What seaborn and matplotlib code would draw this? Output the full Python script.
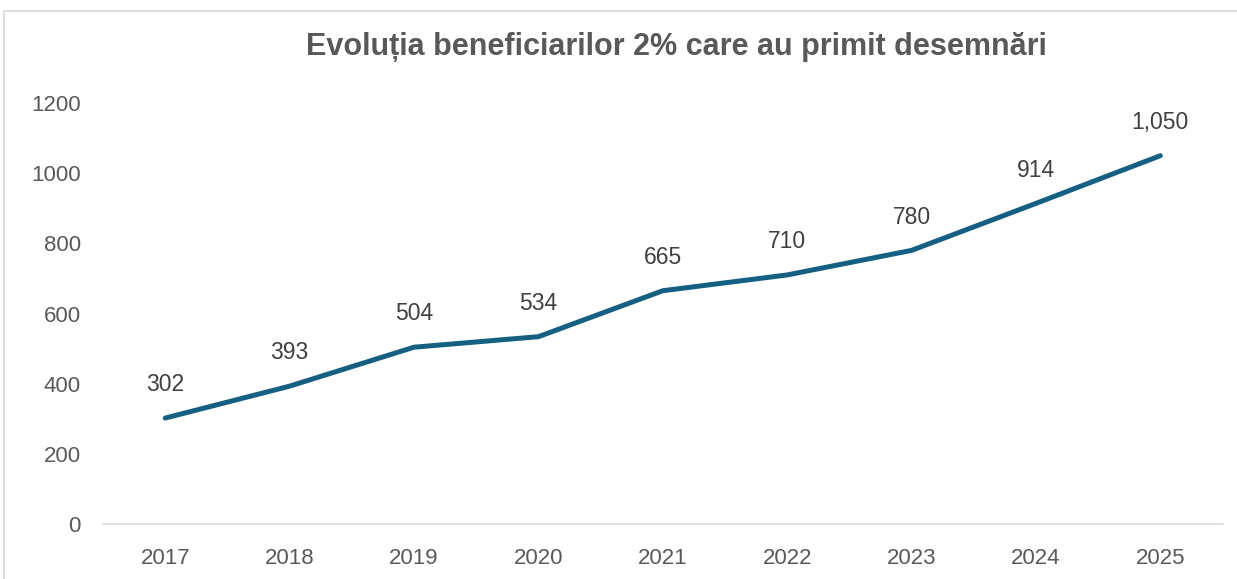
import pandas as pd
import seaborn as sns
import matplotlib.pyplot as plt
from matplotlib.patches import Rectangle

years = ["2017", "2018", "2019", "2020", "2021", "2022", "2023", "2024", "2025"]
beneficiari = [302, 393, 504, 534, 665, 710, 780, 914, 1050]
y_ticks = [0, 200, 400, 600, 800, 1000, 1200]

df = pd.DataFrame({"An": years, "Beneficiari": beneficiari})

sns.set_theme(style="white")
plt.rcParams["font.family"] = ["Liberation Sans", "DejaVu Sans"]

fig = plt.figure(figsize=(12.37, 5.79), dpi=100)
ax = fig.add_axes([0.0833, 0.095, 0.905, 0.727])

sns.lineplot(data=df, x="An", y="Beneficiari", color="#156082", linewidth=3.6,
             solid_capstyle="round", ax=ax)

# etichete de date deasupra punctelor
for i, v in enumerate(beneficiari):
    ax.annotate(f"{v:,}", (i, v), xytext=(0, 24), textcoords="offset points",
                ha="center", va="center", fontsize=16.5, color="#404040")

ax.set_xlim(-0.5, len(years) - 0.5)
ax.set_ylim(0, 1200)
ax.set_yticks(y_ticks)
ax.set_xlabel("")
ax.set_ylabel("")
ax.tick_params(axis="both", labelsize=16, colors="#595959", length=0)
ax.tick_params(axis="x", pad=17)
ax.tick_params(axis="y", pad=16)
for s in ["top", "right", "left"]:
    ax.spines[s].set_visible(False)
ax.spines["bottom"].set_color("#d9d9d9")
ax.spines["bottom"].set_linewidth(1.2)

fig.suptitle("Evoluția beneficiarilor 2% care au primit desemnări", x=0.547, y=0.945,
             fontsize=22, fontweight="bold", color="#595959")

# chenarul graficului
fig.patches.append(Rectangle((4 / 1237, -0.1), 1.2, 1 - 11 / 579 + 0.1,
                             transform=fig.transFigure, fill=False,
                             edgecolor="#d9d9d9", linewidth=1.2))

fig.savefig("out.png", dpi=100)
